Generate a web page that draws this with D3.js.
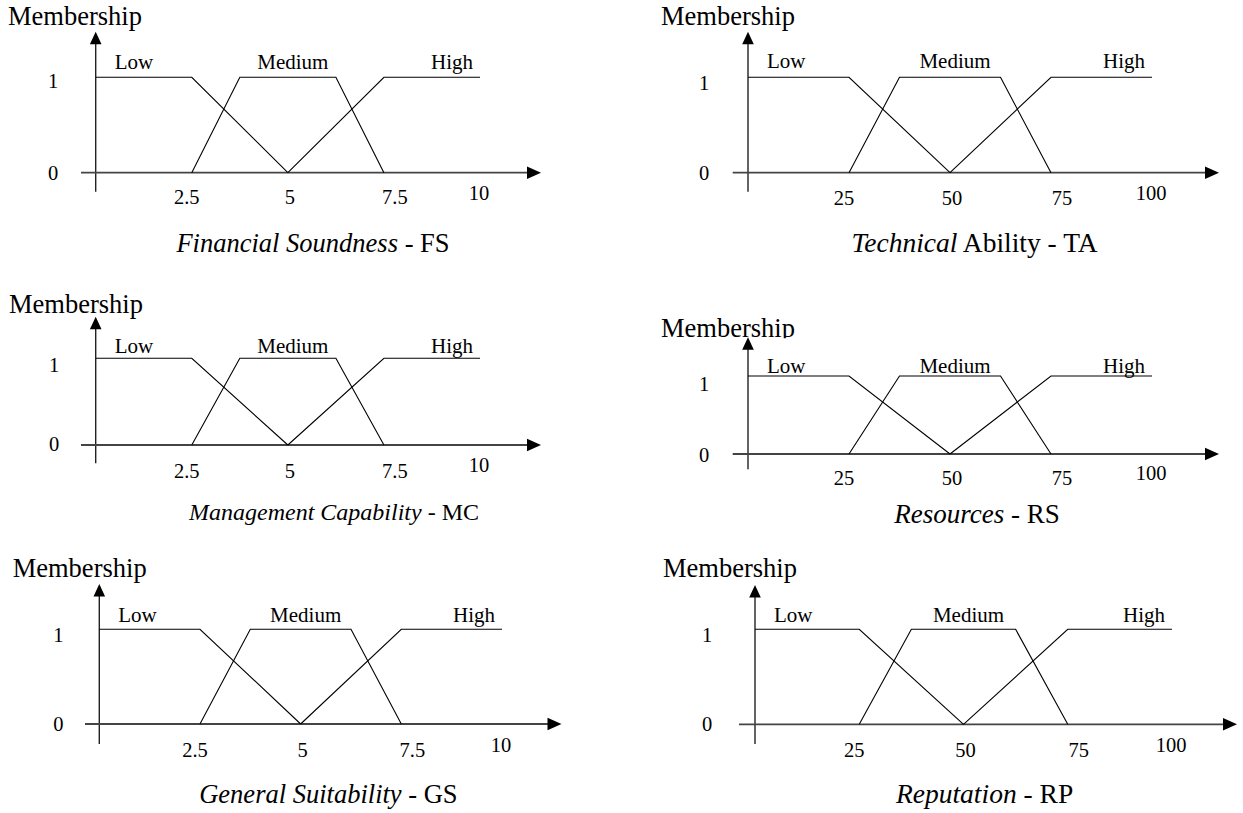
<!DOCTYPE html>
<html>
<head>
<meta charset="utf-8">
<script src="https://cdn.jsdelivr.net/npm/d3@7"></script>
<style>
  html, body { margin: 0; padding: 0; background: #ffffff; }
  svg { display: block; }
  text { font-family: "Liberation Serif", "Times New Roman", Times, serif; fill: #000; }
</style>
</head>
<body>
<svg id="chart" width="1243" height="813"></svg>
<script>
// ---------- DATA ----------
const variableNames = ["Financial Soundness", "Technical Ability", "Management Capability",
                       "Resources", "General Suitability", "Reputation"];
const titleItalic = ["Financial Soundness", "Technical", "Management Capability",
                     "Resources", "General Suitability", "Reputation"];
const titleRoman = [" - FS", " Ability - TA", " - MC", " - RS", " - GS", " - RP"];
const domainMax = [10, 100, 10, 100, 10, 100];

const setNames = ["Low", "Medium", "High"];

// membership breakpoints [value, membership] for the 0–10 scale
const lowTen = [[0, 1], [2.5, 1], [5, 0]];
const mediumTen = [[2.5, 0], [3.75, 1], [6.25, 1], [7.5, 0]];
const highTen = [[5, 0], [7.5, 1], [10, 1]];
// membership breakpoints for the 0–100 scale
const lowHundred = [[0, 1], [25, 1], [50, 0]];
const mediumHundred = [[25, 0], [37.5, 1], [62.5, 1], [75, 0]];
const highHundred = [[50, 0], [75, 1], [100, 1]];

const tickValuesTen = [2.5, 5, 7.5, 10];
const tickLabelsTen = ["2.5", "5", "7.5", "10"];
const tickValuesHundred = [25, 50, 75, 100];
const tickLabelsHundred = ["25", "50", "75", "100"];
const membershipTicks = [0, 1];

// ---------- LAYOUT (pixel positions of each small panel) ----------
const layout = [
  { x0: 95.7, x1: 480, axStart: 81,    arrowX: 541,  yTip: 31.7,  yBot: 191.7, y0: 172.7, y1: 77.3,
    memX: 8,   memY: 25,    catY: 68.8,  tickY: 204,   lastTickY: 200,   oneY: 88,    zeroY: 179.5, yLabX: 53,
    titleX: 313,   titleY: 251.7, titleSize: 26.5, clipMem: false },
  { x0: 748,  x1: 1152, axStart: 732.7, arrowX: 1219, yTip: 31.7,  yBot: 191.7, y0: 172.7, y1: 77.3,
    memX: 661, memY: 25,    catY: 68.3,  tickY: 205,   lastTickY: 200,   oneY: 90,    zeroY: 179.5, yLabX: 704,
    titleX: 974.6, titleY: 251.7, titleSize: 27.5, clipMem: false },
  { x0: 95.7, x1: 480, axStart: 81,    arrowX: 541,  yTip: 316.7, yBot: 463.3, y0: 445,   y1: 358.3,
    memX: 9,   memY: 312.7, catY: 352.7, tickY: 478.3, lastTickY: 471.7, oneY: 371.7, zeroY: 451,   yLabX: 54,
    titleX: 334,   titleY: 520,   titleSize: 24,   clipMem: false },
  { x0: 748,  x1: 1152, axStart: 732.7, arrowX: 1219, yTip: 337.3, yBot: 469.3, y0: 454,   y1: 376,
    memX: 661, memY: 336.7, catY: 373.3, tickY: 485,   lastTickY: 480,   oneY: 390.7, zeroY: 461.7, yLabX: 704,
    titleX: 977,   titleY: 522.6, titleSize: 27,   clipMem: true },
  { x0: 99.3, x1: 502, axStart: 85,    arrowX: 561.5, yTip: 584,  yBot: 744,   y0: 724,   y1: 629.3,
    memX: 12.7, memY: 577.3, catY: 621.7, tickY: 757.3, lastTickY: 751.7, oneY: 641.7, zeroY: 730.5, yLabX: 58.3,
    titleX: 328.4, titleY: 803.3, titleSize: 26.5, clipMem: false },
  { x0: 755,  x1: 1172, axStart: 739,   arrowX: 1237, yTip: 585,   yBot: 744,   y0: 724.3, y1: 629.3,
    memX: 663, memY: 576.7, catY: 621.7, tickY: 756.7, lastTickY: 751.7, oneY: 641.7, zeroY: 730.5, yLabX: 707,
    titleX: 984.6, titleY: 803.3, titleSize: 27.5, clipMem: false }
];
const tickDx = [-5, 2, 11, -1];

// ---------- DRAW ----------
const svg = d3.select("#chart");
svg.append("rect").attr("width", 1243).attr("height", 813).attr("fill", "#fff");
const defs = svg.append("defs");

variableNames.forEach((name, i) => {
  const L = layout[i];
  const isTen = domainMax[i] === 10;
  const sets = isTen ? [lowTen, mediumTen, highTen] : [lowHundred, mediumHundred, highHundred];
  const tickVals = isTen ? tickValuesTen : tickValuesHundred;
  const tickLabs = isTen ? tickLabelsTen : tickLabelsHundred;

  const x = d3.scaleLinear().domain([0, domainMax[i]]).range([L.x0, L.x1]);
  const y = d3.scaleLinear().domain([0, 1]).range([L.y0, L.y1]);

  const g = svg.append("g").attr("class", "panel-" + i);

  // "Membership" axis caption
  const mem = g.append("text")
    .attr("x", L.memX).attr("y", L.memY)
    .attr("font-size", 26.5)
    .text("Membership");
  if (L.clipMem) {
    const cid = "clipmem" + i;
    defs.append("clipPath").attr("id", cid)
      .append("rect").attr("x", 0).attr("y", L.memY - 40).attr("width", 1243).attr("height", 41.5);
    mem.attr("clip-path", "url(#" + cid + ")");
  }

  // y axis (vertical line + arrow head)
  g.append("line")
    .attr("x1", x(0)).attr("x2", x(0))
    .attr("y1", L.yBot).attr("y2", L.yTip + 10)
    .attr("stroke", "#222").attr("stroke-width", 1.4);
  g.append("path")
    .attr("d", d3.line()([[x(0), L.yTip], [x(0) - 5.8, L.yTip + 12.5], [x(0) + 5.8, L.yTip + 12.5]]) + "Z")
    .attr("fill", "#000");

  // x axis (horizontal line + arrow head)
  g.append("line")
    .attr("x1", L.axStart).attr("x2", L.arrowX - 12)
    .attr("y1", y(0)).attr("y2", y(0))
    .attr("stroke", "#444").attr("stroke-width", 1.8);
  g.append("path")
    .attr("d", d3.line()([[L.arrowX, y(0)], [L.arrowX - 14, y(0) - 6.2], [L.arrowX - 14, y(0) + 6.2]]) + "Z")
    .attr("fill", "#000");

  // membership labels 0 / 1
  g.selectAll("text.ylab").data(membershipTicks).enter().append("text")
    .attr("class", "ylab")
    .attr("x", L.yLabX)
    .attr("y", d => d === 1 ? L.oneY : L.zeroY)
    .attr("text-anchor", "middle")
    .attr("font-size", 20.5)
    .text(d => String(d));

  // tick labels on the x axis
  g.selectAll("text.xlab").data(tickVals).enter().append("text")
    .attr("class", "xlab")
    .attr("x", (d, k) => x(d) + tickDx[k])
    .attr("y", (d, k) => k === tickVals.length - 1 ? L.lastTickY : L.tickY)
    .attr("text-anchor", "middle")
    .attr("font-size", 20.5)
    .text((d, k) => tickLabs[k]);

  // membership functions
  const line = d3.line().x(d => x(d[0])).y(d => y(d[1]));
  g.selectAll("path.mf").data(sets).enter().append("path")
    .attr("class", "mf")
    .attr("d", line)
    .attr("fill", "none")
    .attr("stroke", "#000")
    .attr("stroke-width", 1.1);

  // set labels
  const mid = domainMax[i] / 2;
  g.append("text").attr("x", x(0) + 19).attr("y", L.catY)
    .attr("text-anchor", "start").attr("font-size", 21).text(setNames[0]);
  g.append("text").attr("x", x(mid) + 5).attr("y", L.catY)
    .attr("text-anchor", "middle").attr("font-size", 21).text(setNames[1]);
  g.append("text").attr("x", x(domainMax[i]) - 7).attr("y", L.catY)
    .attr("text-anchor", "end").attr("font-size", 21).text(setNames[2]);

  // panel title
  const t = g.append("text")
    .attr("x", L.titleX).attr("y", L.titleY)
    .attr("text-anchor", "middle")
    .attr("font-size", L.titleSize);
  t.append("tspan").attr("font-style", "italic").text(titleItalic[i]);
  t.append("tspan").text(titleRoman[i]);
});
</script>
</body>
</html>
